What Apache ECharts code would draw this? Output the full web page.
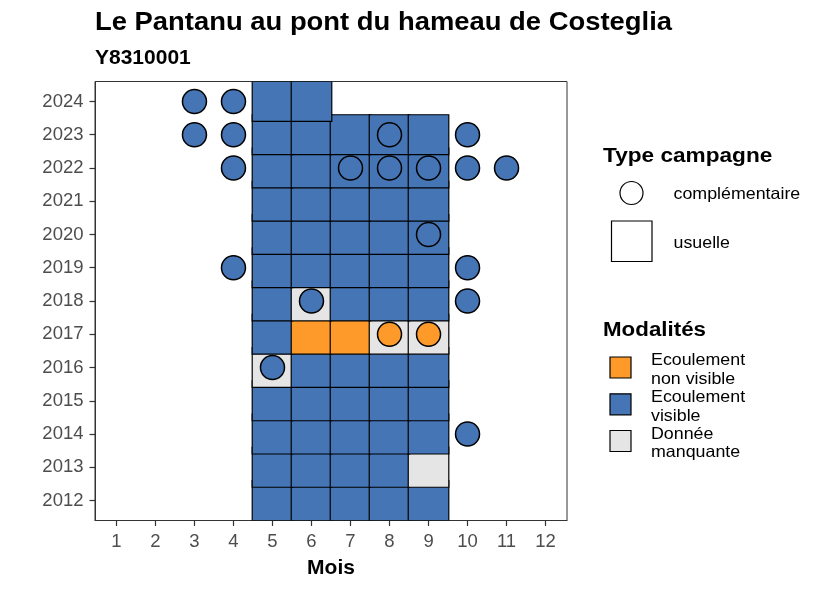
<!DOCTYPE html>
<html>
<head>
<meta charset="utf-8">
<script src="https://cdn.jsdelivr.net/npm/echarts@6/dist/echarts.min.js"></script>
<style>
  html, body { margin: 0; padding: 0; background: #fff; }
  #chart { width: 826px; height: 590px; }
</style>
</head>
<body>
<div id="chart"></div>
<script>
// ---------- data ----------
const yearTicks = [2012, 2013, 2014, 2015, 2016, 2017, 2018, 2019, 2020, 2021, 2022, 2023, 2024];
const monthTicks = [1, 2, 3, 4, 5, 6, 7, 8, 9, 10, 11, 12];

// modality codes: N = Ecoulement non visible, V = Ecoulement visible, M = Donnée manquante
const modaliteCodes = ['N', 'V', 'M'];
const modaliteLabels = ['Ecoulement\nnon visible', 'Ecoulement\nvisible', 'Donnée\nmanquante'];

// usual campaigns (tiles): [month, year, modality]
const usuelleObs = [
  [5, 2012, 'V'], [6, 2012, 'V'], [7, 2012, 'V'], [8, 2012, 'V'], [9, 2012, 'V'],
  [5, 2013, 'V'], [6, 2013, 'V'], [7, 2013, 'V'], [8, 2013, 'V'], [9, 2013, 'M'],
  [5, 2014, 'V'], [6, 2014, 'V'], [7, 2014, 'V'], [8, 2014, 'V'], [9, 2014, 'V'],
  [5, 2015, 'V'], [6, 2015, 'V'], [7, 2015, 'V'], [8, 2015, 'V'], [9, 2015, 'V'],
  [5, 2016, 'M'], [6, 2016, 'V'], [7, 2016, 'V'], [8, 2016, 'V'], [9, 2016, 'V'],
  [5, 2017, 'V'], [6, 2017, 'N'], [7, 2017, 'N'], [8, 2017, 'M'], [9, 2017, 'M'],
  [5, 2018, 'V'], [6, 2018, 'M'], [7, 2018, 'V'], [8, 2018, 'V'], [9, 2018, 'V'],
  [5, 2019, 'V'], [6, 2019, 'V'], [7, 2019, 'V'], [8, 2019, 'V'], [9, 2019, 'V'],
  [5, 2020, 'V'], [6, 2020, 'V'], [7, 2020, 'V'], [8, 2020, 'V'], [9, 2020, 'V'],
  [5, 2021, 'V'], [6, 2021, 'V'], [7, 2021, 'V'], [8, 2021, 'V'], [9, 2021, 'V'],
  [5, 2022, 'V'], [6, 2022, 'V'], [7, 2022, 'V'], [8, 2022, 'V'], [9, 2022, 'V'],
  [5, 2023, 'V'], [6, 2023, 'V'], [7, 2023, 'V'], [8, 2023, 'V'], [9, 2023, 'V'],
  [5, 2024, 'V'], [6, 2024, 'V']
];

// complementary campaigns (circles): [month, year, modality]
const complementaireObs = [
  [10, 2014, 'V'],
  [5, 2016, 'V'],
  [8, 2017, 'N'], [9, 2017, 'N'],
  [6, 2018, 'V'], [10, 2018, 'V'],
  [4, 2019, 'V'], [10, 2019, 'V'],
  [9, 2020, 'V'],
  [4, 2022, 'V'], [7, 2022, 'V'], [8, 2022, 'V'], [9, 2022, 'V'], [10, 2022, 'V'], [11, 2022, 'V'],
  [3, 2023, 'V'], [4, 2023, 'V'], [8, 2023, 'V'], [10, 2023, 'V'],
  [3, 2024, 'V'], [4, 2024, 'V']
];

// ---------- styles ----------
const modColors = { N: '#FD9A2A', V: '#4575B4', M: '#E5E5E5' };
const TILE_W = 1.04;   // months
const TILE_H = 1.2;    // years
const FONT = "'Liberation Sans', Arial, sans-serif";

const tileData = usuelleObs.slice().sort((a, b) => a[1] - b[1] || a[0] - b[0]);

const chart = echarts.init(document.getElementById('chart'), null, { renderer: 'canvas' });

function legendText(x, y, text, size, bold, sx) {
  return {
    type: 'text', x: x, y: y, scaleX: sx,
    style: {
      text: text, x: 0, y: 0,
      font: (bold ? 'bold ' : '') + size + 'px ' + FONT,
      fill: '#000', align: 'left', verticalAlign: 'middle'
    }
  };
}

const graphics = [
  legendText(95, 23.5, 'Le Pantanu au pont du hameau de Costeglia', 25, true, 1.096),
  legendText(95, 58, 'Y8310001', 20, true, 1.05),
  legendText(603, 156.5, 'Type campagne', 19.5, true, 1.16),
  { type: 'circle', shape: { cx: 631.5, cy: 193, r: 11.5 }, style: { fill: '#fff', stroke: '#000', lineWidth: 1.2 } },
  legendText(673.5, 194.5, 'complémentaire', 16.5, false, 1.08),
  { type: 'rect', shape: { x: 611.5, y: 221, width: 40.5, height: 40.5 }, style: { fill: '#fff', stroke: '#000', lineWidth: 1.2 } },
  legendText(673.5, 243, 'usuelle', 16.5, false, 1.08),
  legendText(603, 330.5, 'Modalités', 19.5, true, 1.145)
];
const keyCenters = [367.5, 404.3, 441];
modaliteCodes.forEach((c, i) => {
  graphics.push({ type: 'rect', shape: { x: 610, y: keyCenters[i] - 10.5, width: 21, height: 21 },
    style: { fill: modColors[c], stroke: '#000', lineWidth: 1.2 } });
  const t = legendText(651, keyCenters[i] + 2.5, modaliteLabels[i], 16.5, false, 1.08);
  t.style.lineHeight = 18.7;
  graphics.push(t);
});

const option = {
  animation: false,
  backgroundColor: '#fff',
  textStyle: { fontFamily: FONT },
  grid: {
    left: 95, top: 81.5, right: 259, bottom: 69.5,
    show: true, borderColor: '#333', borderWidth: 1, backgroundColor: 'transparent'
  },
  xAxis: {
    type: 'value', min: 0.45, max: 12.55,
    name: 'Mois', nameLocation: 'middle', nameGap: 37,
    nameTextStyle: { fontSize: 21, fontWeight: 'bold', color: '#000', fontFamily: FONT },
    axisLine: { show: true, lineStyle: { color: '#333', width: 1 } },
    axisTick: { show: true, customValues: monthTicks, length: 5.5, lineStyle: { color: '#333', width: 1.2 } },
    axisLabel: { customValues: monthTicks, margin: 12, fontSize: 18.5, color: '#4d4d4d', fontFamily: FONT,
      formatter: v => String(v) },
    splitLine: { show: false }
  },
  yAxis: {
    type: 'value', min: 2011.4, max: 2024.6,
    axisLine: { show: true, lineStyle: { color: '#333', width: 1 } },
    axisTick: { show: true, customValues: yearTicks, length: 5.5, lineStyle: { color: '#333', width: 1.2 } },
    axisLabel: { customValues: yearTicks, margin: 11.5, fontSize: 18.5, color: '#4d4d4d', fontFamily: FONT,
      formatter: v => String(v) },
    splitLine: { show: false }
  },
  series: [
    {
      type: 'custom',
      name: 'usuelle',
      clip: true,
      z: 2,
      encode: { x: 0, y: 1 },
      data: tileData.map(d => [d[0], d[1], modaliteCodes.indexOf(d[2])]),
      renderItem: function (params, api) {
        const m = api.value(0), y = api.value(1), code = modaliteCodes[api.value(2)];
        const p0 = api.coord([m - TILE_W / 2, y + TILE_H / 2]);
        const p1 = api.coord([m + TILE_W / 2, y - TILE_H / 2]);
        return {
          type: 'rect',
          shape: { x: p0[0], y: p0[1], width: p1[0] - p0[0], height: p1[1] - p0[1] },
          style: { fill: modColors[code], stroke: '#000', lineWidth: 1.2 }
        };
      }
    },
    {
      type: 'scatter',
      name: 'complémentaire',
      z: 3,
      symbol: 'circle',
      symbolSize: 24,
      data: complementaireObs.map(d => ({
        value: [d[0], d[1]],
        itemStyle: { color: modColors[d[2]], borderColor: '#000', borderWidth: 1.5, opacity: 1 }
      }))
    }
  ],
  graphic: graphics
};
chart.setOption(option);
</script>
</body>
</html>
